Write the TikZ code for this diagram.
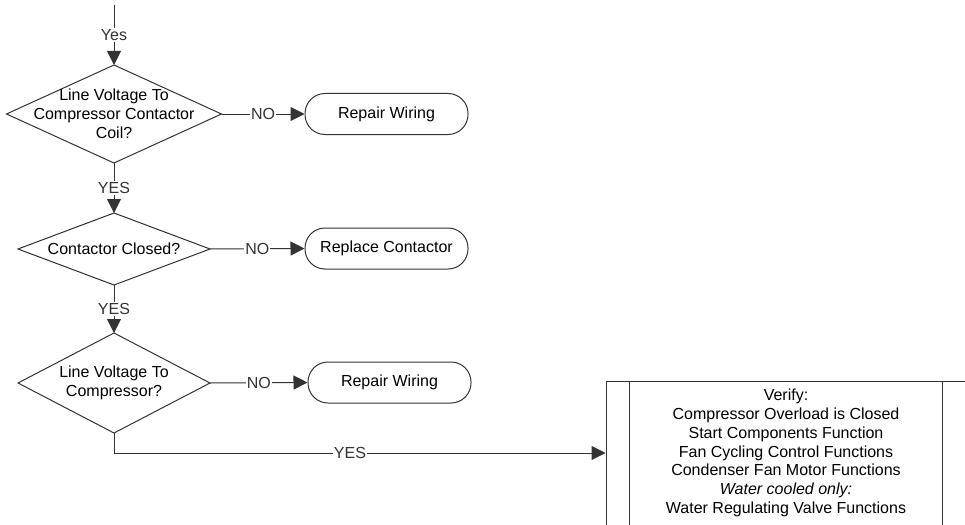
\documentclass[tikz,border=0pt]{standalone}
\usepackage{fontspec}
\setmainfont{Liberation Sans}
\usepackage{xcolor}
\usepackage{tikz}
\usetikzlibrary{arrows.meta,calc,shapes.geometric}
\definecolor{fline}{HTML}{333333}
\newcommand{\ftxt}{\fontsize{16}{18.8}\selectfont}
\tikzset{
  >={Triangle[length=14pt,width=14pt]},
  fdec/.style={diamond, draw=fline, line width=1pt, inner sep=0pt, outer sep=0pt},
  fdtxt/.style={font=\ftxt, align=center, inner sep=0pt},
  fterm/.style={rectangle, rounded corners=20pt, draw=fline, line width=1pt,
                minimum width=163pt, minimum height=41pt, font=\ftxt},
  fproc/.style={rectangle, draw=fline, line width=1pt, minimum width=360pt,
                minimum height=144pt, align=center, font=\ftxt},
  fflow/.style={->, fline, line width=1pt},
  flbl/.style={fill=white, inner sep=1pt, font=\ftxt},
}
\begin{document}
\begin{tikzpicture}[x=1pt,y=-1pt]

  \useasboundingbox (0,0) rectangle (965,524);
  \clip (0,0) rectangle (965,524);

  \coordinate (top) at (114,5);

  % decisions
  \node[fdec, minimum width=215pt, minimum height=98pt,
        label={[fdtxt]center:Line Voltage To\\Compressor Contactor\\Coil?}] (q1) at (114,114) {};
  \node[fdec, minimum width=192pt, minimum height=72pt,
        label={[fdtxt]center:Contactor Closed?}] (q2) at (114,249) {};
  \node[fdec, minimum width=192pt, minimum height=100pt,
        label={[fdtxt]center:Line Voltage To\\Compressor?}] (q3) at (114,383) {};

  % ends
  \node[fterm] (r1) at (386.5,114) {Repair Wiring};
  \node[fterm] (r2) at (386.5,248.5) {Replace Contactor};
  \node[fterm] (r3) at (389.5,382.5) {Repair Wiring};

  % predefined process
  \node[fproc] (v) at (786,453)
       {Verify:\\Compressor Overload is Closed\\Start Components Function\\
        Fan Cycling Control Functions\\Condenser Fan Motor Functions\\
        \textit{Water cooled only:}\\Water Regulating Valve Functions};
  \draw[fline, line width=1pt] ($(v.north west)+(24,0)$) -- ($(v.south west)+(24,0)$);
  \draw[fline, line width=1pt] ($(v.north east)+(-24,0)$) -- ($(v.south east)+(-24,0)$);

  % flow
  \draw[fflow] (top) -- node[flbl] {Yes} (q1.north);
  \draw[fflow] (q1.east) -- node[flbl] {NO} (r1.west);
  \draw[fflow] (q1.south) -- node[flbl] {YES} (q2.north);
  \draw[fflow] (q2.east) -- node[flbl] {NO} (r2.west);
  \draw[fflow] (q2.south) -- node[flbl] {YES} (q3.north);
  \draw[fflow] (q3.east) -- node[flbl] {NO} (r3.west);
  \draw[fflow] (q3.south) |- node[flbl, pos=0.74] {YES} (v.west);

\end{tikzpicture}
\end{document}
